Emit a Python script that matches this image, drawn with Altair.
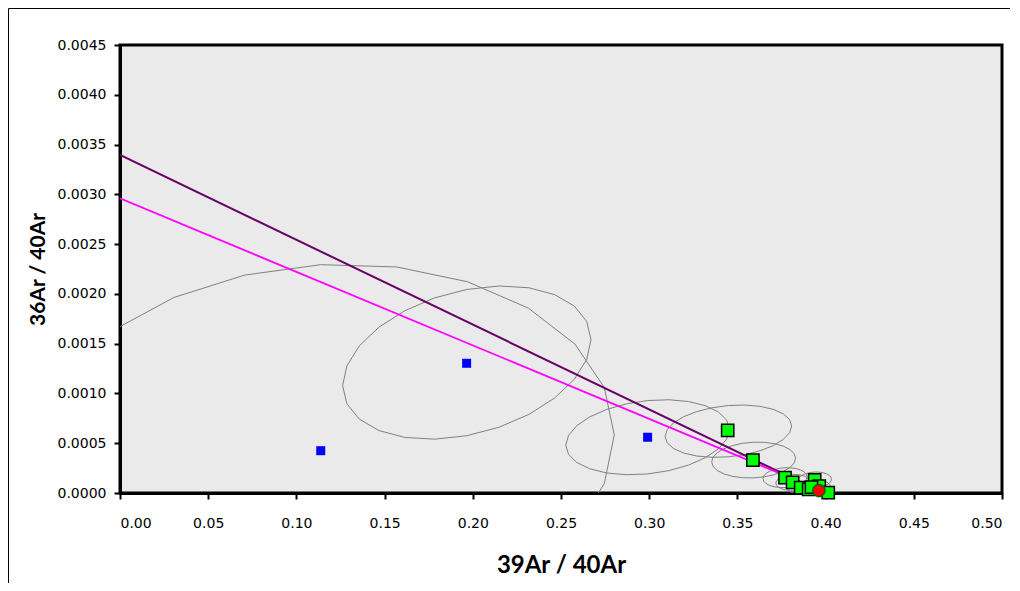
import altair as alt
import numpy as np
import pandas as pd

# ---- tick values ----
x_ticks = [0.00, 0.05, 0.10, 0.15, 0.20, 0.25, 0.30, 0.35, 0.40, 0.45, 0.50]
y_ticks = [0.0000, 0.0005, 0.0010, 0.0015, 0.0020, 0.0025, 0.0030, 0.0035, 0.0040, 0.0045]

# ---- excluded steps (blue squares) ----
blue_x = [0.1138, 0.1965, 0.2991]
blue_y = [0.000425, 0.001303, 0.00056]

# ---- isochron steps (green squares) ----
green_x = [0.3445, 0.3588, 0.3770, 0.3813, 0.3859, 0.3904, 0.3938, 0.3964, 0.4015, 0.3920]
green_y = [0.00063, 0.000331, 0.000154, 0.000107, 0.000053, 0.000037, 0.000131, 0.00007, 0.000003, 0.00006]

# ---- red point ----
red_x = [0.3962]
red_y = [0.000025]

# ---- error ellipses: centre, half widths and correlation ----
ell_cx = [0.1138, 0.1966, 0.2991, 0.3449, 0.3592, 0.3770, 0.3813, 0.3938, 0.3859, 0.3964, 0.4015, 0.3904]
ell_cy = [0.000425, 0.00131, 0.00056, 0.000621, 0.000331, 0.000154, 0.000107, 0.000131, 0.000053, 0.00007, 0.000003, 0.000037]
ell_sx = [0.1664, 0.0704, 0.0464, 0.0359, 0.0238, 0.0125, 0.0095, 0.0095, 0.0075, 0.0060, 0.0040, 0.0060]
ell_sy = [0.001875, 0.00077, 0.000377, 0.000263, 0.00018, 0.0001, 0.00008, 0.00008, 0.00006, 0.00005, 0.00004, 0.00005]
ell_rho = [0.084, 0.30, 0.21, 0.20, 0.10, 0.10, 0.10, 0.10, 0.10, 0.10, 0.10, 0.10]

# ---- regression lines (intercepts) ----
line1_x = [0.0, 0.3986]
line1_y = [0.003395, 0.0]
line2_x = [0.0, 0.4008]
line2_y = [0.00296, 0.0]

rows = []
for i in range(len(ell_cx)):
    for k in range(25):
        t = np.deg2rad(15 * k)
        rows.append({
            "e": i, "k": k,
            "x": ell_cx[i] + ell_sx[i] * np.cos(t),
            "y": ell_cy[i] + ell_sy[i] * (ell_rho[i] * np.cos(t) + np.sqrt(1 - ell_rho[i] ** 2) * np.sin(t)),
        })
ell_df = pd.DataFrame(rows)

xs = alt.Scale(domain=[0, 0.5], nice=False, zero=False)
ys = alt.Scale(domain=[0, 0.0045], nice=False, zero=False)

x_axis = alt.Axis(values=x_ticks, format=".2f", title="39Ar / 40Ar", grid=False,
                  domainColor="black", domainWidth=3, tickColor="black", tickWidth=2, tickSize=6,
                  labelPadding=17, labelFont="DejaVu Sans", labelFontSize=14, labelColor="black",
                  titleFont="Lato", titleFontSize=24, titleFontWeight="bold", titleColor="black",
                  titleY=72, titleBaseline="middle")
y_axis = alt.Axis(values=y_ticks, format=".4f", title="36Ar / 40Ar", grid=False,
                  domainColor="black", domainWidth=3, tickColor="black", tickWidth=2, tickSize=6,
                  labelPadding=8, labelFont="DejaVu Sans", labelFontSize=14, labelColor="black",
                  titleFont="Lato", titleFontSize=21, titleFontWeight="bold", titleColor="black",
                  titleX=-82, titleY=224, titleBaseline="middle", titleAlign="center")

X = alt.X("x:Q", scale=xs, axis=x_axis)
Y = alt.Y("y:Q", scale=ys, axis=y_axis)

frame = alt.Chart(pd.DataFrame({"a": [0]})).mark_rect(
    fillOpacity=0, stroke="black", strokeWidth=1, clip=False
).encode(x=alt.value(-111.5), y=alt.value(-36.5), x2=alt.value(1000), y2=alt.value(700))

ellipses = alt.Chart(ell_df).mark_line(color="#808080", strokeWidth=1, clip=True).encode(
    x=X, y=Y, detail="e:N", order="k:Q")

l1 = alt.Chart(pd.DataFrame({"x": line1_x, "y": line1_y})).mark_line(
    color="#660066", strokeWidth=2, clip=True).encode(x=X, y=Y)
l2 = alt.Chart(pd.DataFrame({"x": line2_x, "y": line2_y})).mark_line(
    color="#FF00FF", strokeWidth=1.8, clip=True).encode(x=X, y=Y)

blue = alt.Chart(pd.DataFrame({"x": blue_x, "y": blue_y})).mark_square(
    size=81, color="#0000FF", opacity=1).encode(x=X, y=Y)
green = alt.Chart(pd.DataFrame({"x": green_x, "y": green_y})).mark_square(
    size=150, fill="#00FF00", stroke="black", strokeWidth=1.5, opacity=1).encode(x=X, y=Y)
red = alt.Chart(pd.DataFrame({"x": red_x, "y": red_y})).mark_circle(
    size=150, fill="#FF0000", stroke="#006600", strokeWidth=1.5, opacity=1).encode(x=X, y=Y)

chart = alt.layer(frame, ellipses, l1, l2, blue, green, red).properties(
    width=882, height=448,
    autosize=alt.AutoSizeParams(type="none"),
    padding={"left": 112, "top": 37, "right": 8, "bottom": 90},
    background="white",
).configure_view(fill="#EAEAEA", stroke="black", strokeWidth=3)

chart.save("out.html", embed_options={"renderer": "svg", "actions": False})
